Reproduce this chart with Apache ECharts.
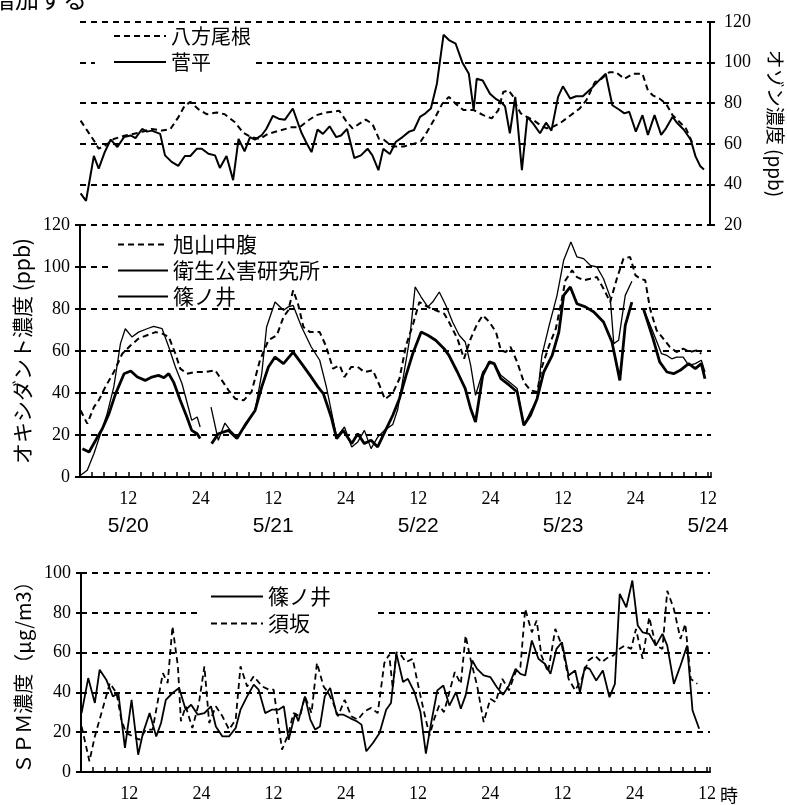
<!DOCTYPE html>
<html><head><meta charset="utf-8">
<script src="https://cdn.jsdelivr.net/npm/echarts@6.0.0/dist/echarts.min.js"></script>
<style>html,body{margin:0;padding:0;background:#fff}#c{width:787px;height:805px}</style>
</head><body><div id="c"></div>
<script>
// ---- data (x = hours from 5/20 0:00) ----
const o3Happo = [[4.1,71.4],[5.2,66.5],[6.3,61.6],[7.1,57.6],[8.2,59.2],[9.6,62.4],[11.5,64.1],[13.7,65.4],[15.9,67.3],[17.6,66.5],[19.0,67.3],[20.3,73],[21.3,78.4],[22.3,80.7],[23.6,77.1],[25.0,74.6],[26.7,75.4],[28.0,74.6],[29.7,70.6],[31.1,65.4],[32.4,63.3],[33.8,62.4],[35.2,64.9],[37.1,66.5],[39.0,68.1],[40.4,68.1],[41.8,71.4],[43.2,74.1],[44.8,75.4],[47.0,76.3],[48.1,71.4],[49.2,67.6],[50.3,69.8],[51.4,71.9],[52.5,69.8],[53.6,62.4],[54.4,62],[55.8,58.7],[57.7,58.7],[58.8,59.5],[60.5,61.1],[61.6,66],[62.7,71.7],[64.1,79.8],[65.2,83.1],[66.3,79.8],[67.6,76.6],[69.3,76.6],[70.9,74.1],[72.3,72.5],[73.4,76.6],[74.2,85.5],[75.1,86.3],[75.9,83.1],[76.5,78.2],[77.1,75],[78.1,73.3],[79.2,71.7],[80.3,69.3],[81.4,67.6],[82.5,68.5],[83.6,70.1],[84.7,72.5],[85.8,75],[86.9,77.4],[88.0,81.5],[89.4,90.4],[90.5,92],[91.8,95.3],[92.9,95.3],[94.3,92],[95.7,94.5],[97.3,94.5],[98.2,86.3],[99.0,83.9],[100.1,82.3],[101.2,79.8],[102.3,74.1],[103.4,70.9],[104.5,67.6],[105.6,60.3]];
const o3Sugadaira = [[4.1,35.6],[5.0,31.9],[6.3,54],[7.1,47.8],[8.1,55.9],[9.1,62.1],[10.2,58.4],[11.3,63.3],[12.4,64.1],[13.2,62.8],[14.3,67.3],[15.1,66],[15.9,66.5],[17.3,64.9],[18.1,54.3],[19.2,51.1],[20.3,49.1],[21.4,54],[22.3,54],[23.4,57.6],[24.2,57.6],[25.3,55.1],[26.4,54.3],[27.2,48.1],[28.3,54],[29.4,42.1],[30.3,62.4],[31.3,56.3],[32.2,63.3],[33.0,62.1],[34.1,64.1],[34.9,67.3],[36.0,73.8],[37.1,72.2],[38.0,71.9],[39.3,77.4],[40.7,65.7],[41.5,60.8],[42.4,55.9],[43.4,67],[44.3,64.9],[45.4,68.6],[46.5,63.3],[47.3,64.1],[48.3,67.3],[49.5,53],[50.6,54.3],[51.7,57.6],[52.5,54.3],[53.5,47],[54.3,57.5],[55.4,55],[56.4,61],[57.5,63.3],[58.6,66],[59.4,66.8],[60.4,73.3],[61.3,75],[62.2,77.4],[63.2,89.6],[64.3,113.7],[65.2,111.1],[66.3,109.4],[67.4,100.2],[68.5,94.5],[69.3,76.6],[69.8,92],[70.8,91.2],[72.0,84.7],[72.9,82.3],[73.8,80.7],[74.5,78.5],[75.3,65.2],[76.2,83.1],[77.3,47],[78.2,73.3],[79.2,69.8],[80.3,65.2],[81.3,70.4],[82.2,66.5],[83.3,83.1],[84.1,88.3],[85.3,82.3],[86.3,83.4],[87.4,83.4],[88.8,87.2],[89.8,90.4],[91.2,94.5],[92.3,79],[93.4,76.9],[94.3,75],[95.1,75.8],[96.2,66],[97.3,74.1],[98.2,64.4],[99.3,74.1],[100.4,64.4],[101.2,67.6],[102.3,73.3],[103.1,70.1],[104.2,66.8],[105.3,62],[106.1,53.8],[106.9,48.9],[107.5,47.3]];
const oxAsahiyama = [[4.1,31.7],[5.2,25.4],[6.3,33.3],[7.1,36.5],[8.2,42.9],[9.6,50],[11.0,58.7],[12.4,62.7],[13.7,65.9],[15.1,67.5],[16.5,69],[17.6,68.3],[18.7,66.7],[19.8,58.7],[20.6,51.6],[21.7,49.2],[23.1,50],[24.7,50],[26.4,50.8],[27.5,46],[28.6,41.3],[29.7,37.3],[31.1,36.5],[32.4,40.5],[33.8,55.6],[35.2,65.1],[36.6,67.5],[37.7,76.2],[38.5,79.4],[39.3,88.9],[40.1,82.5],[41.0,71.4],[42.1,69],[43.7,69],[44.8,61.9],[45.9,51.6],[47.0,53.2],[47.8,47.6],[48.9,52.4],[50.0,52.4],[51.1,50],[52.5,50.8],[53.6,43.7],[54.5,37],[55.8,40],[56.9,46.8],[58.0,62.7],[59.1,72.2],[60.2,83.3],[61.6,81],[62.9,79.4],[64.3,77.8],[65.1,73.8],[66.5,65.9],[67.6,56.3],[68.7,65.9],[69.8,73],[70.7,77],[71.8,73.8],[72.9,69],[73.7,60.3],[74.5,59.5],[75.3,61.9],[76.4,54.8],[77.5,45.2],[78.6,41.3],[79.7,40.5],[80.5,52.4],[81.7,62.7],[82.8,70.6],[83.6,81.7],[84.4,93.7],[85.5,98.4],[86.3,95.2],[87.4,93.7],[88.5,94.4],[89.6,95.2],[90.7,89.7],[91.8,83.3],[92.9,94.4],[94.0,104],[95.1,104.8],[96.0,96],[96.8,94.4],[97.6,93.7],[98.4,80.2],[99.5,69.8],[100.6,65.9],[101.7,61.9],[102.8,59.5],[103.9,61.1],[105.0,59.5],[106.1,60.3],[106.9,58.7]];
const oxEisei = [[4.4,13.5],[5.5,11.9],[6.6,17.5],[7.7,23],[8.8,30.2],[9.9,39.7],[11.3,49.2],[12.4,50.5],[13.5,47.6],[14.8,46],[15.9,47.6],[17.0,48.4],[17.9,47.3],[18.7,49.2],[19.5,45.2],[20.6,36.5],[21.7,28.6],[22.5,22.2],[23.4,20.6],[23.9,18.3],[24.8,null],[25.8,15.9],[26.9,20.6],[28.6,22.2],[30.0,18.3],[31.3,24.6],[33.0,31.7],[34.1,42.9],[35.2,52.4],[36.3,57.1],[37.7,54],[39.3,59.5],[40.7,54],[42.1,48.4],[43.4,42.9],[44.3,39.7],[45.6,28.6],[46.5,18.3],[47.6,22.2],[49.0,15.9],[50.0,20.6],[51.1,15.9],[52.2,17.5],[53.3,14.3],[54.4,21],[55.8,29.4],[56.9,37.3],[58.0,48.4],[59.1,58.7],[60.5,69],[61.6,67.5],[62.9,65.1],[64.3,61.1],[65.1,57.9],[66.5,50],[67.8,42.1],[68.7,32.5],[69.5,26.2],[70.7,48.4],[71.8,54.8],[72.6,54],[73.7,46.8],[75.1,43.7],[76.4,40.5],[77.5,24.6],[78.6,29.4],[79.7,37.3],[80.8,50],[82.2,57.9],[83.3,69],[84.1,86.5],[85.2,90.5],[86.3,82.5],[87.7,81],[89.1,78.6],[90.7,73.8],[92.1,64.3],[93.4,46],[94.3,72.2],[95.4,83.3],[96.3,null],[97.3,80.2],[98.9,65.9],[100.0,54.8],[101.2,50],[102.3,49.2],[103.4,50.8],[104.8,54],[105.9,51.6],[106.9,54],[107.5,46.8]];
const oxShinonoi = [[4.1,0.8],[5.2,3.2],[6.3,11.1],[7.4,20.6],[8.5,30.2],[9.6,42.9],[10.7,63.5],[11.5,70.6],[12.6,66.7],[13.7,69],[15.1,70.6],[16.2,71.7],[17.6,70.6],[18.7,61.9],[19.8,52.4],[20.9,44.4],[22.0,32.5],[22.5,27],[23.4,28.6],[23.9,23.8],[24.8,null],[25.7,33.3],[26.9,17.5],[28.0,25.7],[28.9,22.2],[30.0,19],[31.3,23.8],[33.0,31.7],[34.1,49.2],[34.9,71.4],[36.3,83.3],[37.7,79.4],[38.5,81],[39.3,81.7],[40.7,71.4],[42.3,61.9],[43.7,55.6],[44.8,42.9],[45.6,31.7],[46.5,19],[47.8,23.8],[49.0,14.3],[50.0,16.7],[51.1,22.2],[52.2,13.5],[53.3,19],[54.4,22.2],[55.8,25],[56.6,32],[57.5,46.8],[58.6,65.9],[59.5,90.5],[60.5,85.7],[61.6,81],[62.4,83.3],[63.5,88.1],[64.6,81.7],[65.7,73.8],[66.8,67.5],[67.8,64.3],[68.7,53.2],[69.5,38.9],[70.7,50],[71.8,54],[72.6,54],[73.7,48.4],[75.1,45.2],[76.4,42.1],[77.5,24.6],[78.6,31],[79.7,37.3],[80.5,57.9],[81.7,72.2],[83.0,86.5],[84.1,103.2],[85.3,111.9],[86.3,104.8],[87.4,104],[88.5,100.8],[89.6,100],[90.7,94.4],[91.8,85.7],[92.4,63.5],[93.2,65.1],[94.3,86.5],[95.4,93.2],[96.3,null],[97.3,80.2],[98.9,69],[100.3,58.7],[101.2,57.9],[102.0,56.3],[102.8,57.1],[103.9,57.1],[104.8,53.2],[105.9,54],[106.9,55.6],[107.5,50]];
const spmShinonoi = [[4.1,29.6],[5.2,47.2],[6.3,34.7],[7.1,51.4],[8.2,46.4],[9.3,38],[10.2,39.7],[11.3,12.1],[12.4,36.3],[13.5,8.7],[14.3,19.6],[15.4,29.6],[16.5,17.9],[17.3,24.6],[18.1,36.3],[19.2,39.7],[20.3,42.2],[21.4,31.3],[22.3,33.8],[23.4,28.8],[24.5,29.6],[25.6,33],[26.4,22.9],[27.5,17.9],[28.6,17.9],[29.7,22.1],[30.5,31.3],[31.6,38],[32.7,43.9],[33.5,41.4],[34.6,29.6],[35.7,31.3],[36.8,31.3],[37.7,33],[38.5,16.2],[39.6,29.6],[40.1,25.5],[41.2,38],[42.1,26.3],[42.9,21.3],[43.7,22.9],[44.5,38],[45.4,42.2],[46.5,28.8],[47.6,28.8],[48.7,27.1],[49.8,25.5],[50.6,23.8],[51.4,10.4],[52.5,14.6],[53.6,19.6],[54.7,31.3],[55.5,34.7],[56.4,59.5],[57.5,45.2],[58.3,46.8],[59.4,40.1],[60.4,30.1],[61.3,9.2],[62.1,23.4],[63.2,41],[64.2,43.5],[65.2,33.4],[66.3,40.1],[67.1,31.8],[67.9,38.5],[69.0,56],[69.8,51.8],[70.9,48.5],[72.0,47.7],[73.1,42.6],[74.1,38.8],[75.1,43.5],[76.2,51.8],[77.0,49.3],[77.8,48.5],[78.9,66.1],[80.0,56.9],[81.1,54.3],[82.0,49.3],[83.0,61.9],[83.9,65.2],[85.0,48.5],[86.1,51],[86.9,40.1],[87.7,52.7],[88.5,51.8],[89.6,46],[90.7,51],[91.8,37.6],[92.7,44.3],[93.5,89.5],[94.6,82.8],[95.6,96.2],[96.5,73.6],[97.3,70.2],[98.4,69.4],[99.5,63.5],[100.6,69.4],[101.4,63.5],[102.5,44.3],[103.6,53.5],[104.7,63.5],[105.6,30.9],[106.7,21.7]];
const spmSuzaka = [[4.1,22.9],[5.4,5.4],[6.3,17.9],[7.4,29.6],[8.8,44.7],[9.9,39.7],[10.7,26.3],[11.5,19.6],[12.6,17.9],[13.7,16.2],[14.8,21.3],[15.9,21.3],[16.8,36.3],[17.6,49.7],[18.4,44.7],[19.2,73.2],[20.1,53.1],[20.6,25.5],[21.4,33],[22.5,22.1],[23.6,34.7],[24.5,53.1],[25.3,24.6],[26.4,33],[27.5,28],[28.6,21.3],[29.7,26.3],[30.5,53.1],[31.6,43],[32.7,48.1],[34.1,43],[35.2,41.4],[36.0,41.4],[37.4,11.2],[38.5,19.6],[39.3,29.6],[40.4,28],[41.2,38],[42.3,29.6],[43.2,54.8],[44.3,43],[45.1,39.7],[45.9,34.7],[46.7,28],[47.8,36.3],[48.9,28],[50.0,26.3],[51.1,30.5],[52.2,32.2],[53.3,29.6],[54.4,54.8],[55.2,59],[55.8,42],[56.4,60.2],[57.2,58.5],[58.0,55.2],[59.1,56.9],[60.2,41],[61.0,30.1],[61.9,18.4],[62.7,26.8],[63.5,33.4],[64.3,30.1],[65.2,40.1],[66.1,50.2],[67.1,44.3],[67.9,68.6],[68.7,56.9],[69.8,43.5],[70.9,25.1],[72.0,36.8],[72.9,35.1],[74.0,46.8],[75.1,41],[76.2,50.2],[77.0,52.7],[77.8,81.9],[78.9,70.2],[79.7,76.1],[80.5,58.5],[81.6,50.2],[82.8,71.9],[83.9,63.5],[85.0,46.8],[86.1,41],[87.2,46.8],[88.3,56],[89.4,58.5],[90.5,55.2],[91.6,57.7],[92.4,58.5],[93.5,61.9],[94.3,63.5],[95.4,61.9],[96.2,71.9],[97.3,56.9],[98.4,77.8],[99.5,63.5],[100.6,61.9],[101.4,91.1],[102.5,81.9],[103.6,66.9],[104.4,74.4],[105.3,46.8],[106.4,44.3]];
const dateLabels = ['5/20','5/21','5/22','5/23','5/24'];
const hourLabels = {12:'12', 0:'24'};

// ---- styles ----
const JP = '"Noto Sans CJK JP", sans-serif';
const SERIF = '"Liberation Serif", "DejaVu Serif", serif';
const BLK = '#000';
const X_MIN = 4, X_MAX = 108.5;
const dashGrid = {show:true, lineStyle:{color:BLK, width:2, type:[6,5]}};

function xLabel(withDate){
  return function(v){
    const r = ((v % 24) + 24) % 24;
    if (Math.abs(r-12) < 1e-6) {
      const d = dateLabels[Math.round((v-12)/24)];
      return withDate ? '{n|' + hourLabels[12] + '}\n{d|' + d + '}' : '{n|' + hourLabels[12] + '}';
    }
    if (Math.abs(r) < 1e-6 && v > 0) return '{n|' + hourLabels[0] + '}';
    return '';
  };
}
const richX = {
  n:{fontFamily:SERIF, fontSize:18, color:BLK, lineHeight:26},
  d:{fontFamily:'"Liberation Sans", sans-serif', fontSize:21, color:BLK, lineHeight:28}
};

function visXAxis(grid, withDate, extra){
  return Object.assign({
    type:'value', gridIndex:grid, min:X_MIN, max:X_MAX, interval:2,
    axisLine:{show:true, onZero:false, lineStyle:{color:BLK, width:2}},
    axisTick:{show:true, inside:true, length:5, lineStyle:{color:BLK, width:1.5}},
    axisLabel:{show:true, interval:0, margin:9, formatter:xLabel(withDate), rich:richX, hideOverlap:false},
    splitLine:{show:false}
  }, extra||{});
}

function line(name, data, xi, yi, width, dashed){
  return {
    type:'line', name:name, data:data, xAxisIndex:xi, yAxisIndex:yi, z:6,
    symbol:'none', showSymbol:false, connectNulls:false, animation:false,
    lineStyle:{color:BLK, width:width, type: dashed ? [6,4] : 'solid'},
    itemStyle:{color:BLK}, emphasis:{disabled:true}
  };
}
const legendCommon = {orient:'vertical', itemHeight:14, itemGap:6, selectedMode:false,
  backgroundColor:'#fff', itemStyle:{opacity:0, borderWidth:0}};

const chart = echarts.init(document.getElementById('c'), null, {renderer:'canvas'});
chart.setOption({
  backgroundColor:'#fff',
  animation:false,
  grid:[
    {left:80, width:630, top:22, height:203, containLabel:false, outerBoundsMode:'none'},
    {left:80, width:631, top:225, height:252, containLabel:false, outerBoundsMode:'none'},
    {left:81, width:629, top:573, height:199, containLabel:false, outerBoundsMode:'none'}
  ],
  xAxis:[
    {type:'value', gridIndex:0, min:X_MIN, max:X_MAX, show:false},
    visXAxis(1, true),
    visXAxis(2, false, {name:'時', nameLocation:'end', nameGap:8,
      nameTextStyle:{fontFamily:JP, fontSize:18, color:BLK, verticalAlign:'top', padding:[14,0,0,0]}})
  ],
  yAxis:[
    {type:'value', gridIndex:0, position:'right', min:20, max:120, interval:20,
     axisLine:{show:true, lineStyle:{color:BLK, width:2}},
     axisTick:{show:true, length:5, lineStyle:{color:BLK, width:2}},
     axisLabel:{margin:14, fontFamily:SERIF, fontSize:18, color:BLK},
     splitLine:dashGrid,
     name:'オゾン濃度 (ppb)', nameLocation:'middle', nameRotate:-90, nameGap:56,
     nameTextStyle:{fontFamily:JP, fontSize:19, color:BLK}},
    {type:'value', gridIndex:1, min:0, max:120, interval:20,
     axisLine:{show:true, lineStyle:{color:BLK, width:2}},
     axisTick:{show:true, length:5, lineStyle:{color:BLK, width:2}},
     axisLabel:{margin:10, fontFamily:SERIF, fontSize:18, color:BLK},
     splitLine:dashGrid,
     name:'オキシダント濃度 (ppb)', nameLocation:'middle', nameRotate:90, nameGap:46,
     nameTextStyle:{fontFamily:JP, fontSize:21, color:BLK}},
    {type:'value', gridIndex:2, min:0, max:100, interval:20,
     axisLine:{show:true, lineStyle:{color:BLK, width:2}},
     axisTick:{show:true, length:5, lineStyle:{color:BLK, width:2}},
     axisLabel:{margin:10, fontFamily:SERIF, fontSize:18, color:BLK},
     splitLine:dashGrid,
     name:'ＳＰＭ濃度（μg/m3）', nameLocation:'middle', nameRotate:90, nameGap:46,
     nameTextStyle:{fontFamily:JP, fontSize:20, color:BLK}}
  ],
  legend:[
    Object.assign({}, legendCommon, {data:['八方尾根','菅平'], left:95, top:24, itemWidth:52,
     padding:[2,2,3,18], textStyle:{fontFamily:JP, fontSize:20, color:BLK, lineHeight:20}}),
    Object.assign({}, legendCommon, {data:['旭山中腹','衛生公害研究所','篠ノ井'], left:112, top:232, itemWidth:50, itemGap:5,
     padding:[2,3,0,5], textStyle:{fontFamily:JP, fontSize:21, color:BLK, lineHeight:20}}),
    Object.assign({}, legendCommon, {data:[{name:'篠ノ井 ', lineStyle:{width:2}},'須坂'], left:200, top:584, itemWidth:52,
     padding:[2,40,2,10], textStyle:{fontFamily:JP, fontSize:21, color:BLK, lineHeight:20}})
  ],
  graphic:[
    {type:'text', left:-9, top:-13, silent:true,
     style:{text:'増加する', font:'24px "Noto Sans CJK JP"', fill:BLK}}
  ],
  series:[
    line('八方尾根', o3Happo, 0, 0, 2, true),
    line('菅平', o3Sugadaira, 0, 0, 2, false),
    line('旭山中腹', oxAsahiyama, 1, 1, 2, true),
    line('衛生公害研究所', oxEisei, 1, 1, 2.8, false),
    line('篠ノ井', oxShinonoi, 1, 1, 1.3, false),
    line('篠ノ井 ', spmShinonoi, 2, 2, 1.8, false),
    line('須坂', spmSuzaka, 2, 2, 1.8, true)
  ]
});
</script></body></html>
